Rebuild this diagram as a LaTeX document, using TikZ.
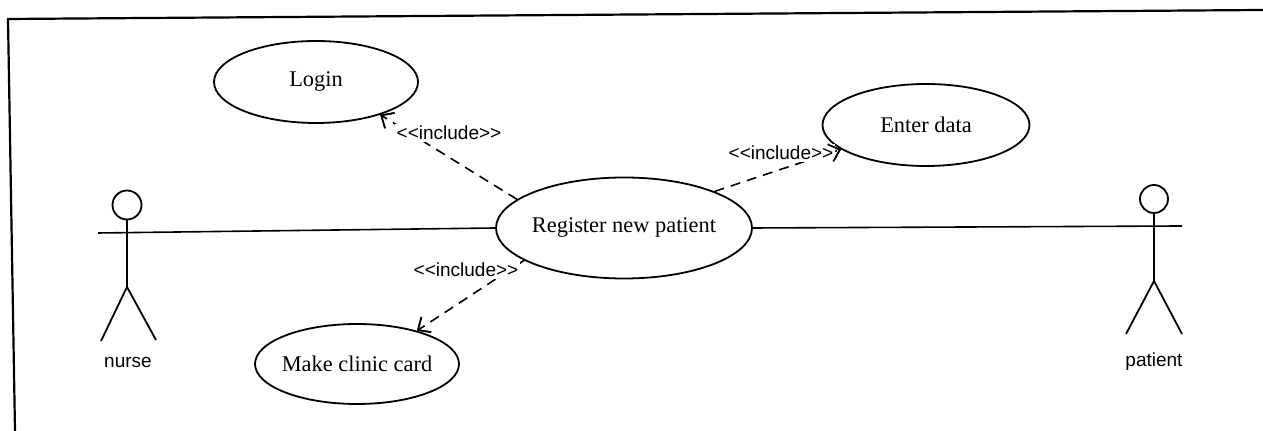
\documentclass[tikz,border=0pt]{standalone}
\usepackage{fontspec}
\setmainfont{Liberation Serif}
\setsansfont{Liberation Sans}
\usetikzlibrary{shapes.geometric,arrows.meta,calc}
% guillemets written as two separate angle brackets each
\newcommand{\stereotype}[1]{<\kern0pt<#1>\kern0pt>}
\begin{document}
\begin{tikzpicture}[x=0.5pt,y=-0.5pt,
  usecase/.style={draw, ellipse, line width=0.9pt, inner sep=0pt},
  casetext/.style={font=\fontsize{11.2}{13}\selectfont},
  actorline/.style={line width=0.9pt},
  assoc/.style={line width=0.8pt},
  opentip/.style={-{Straight Barb[length=5pt,width=9pt,line width=0.8pt]}},
  incl/.style={line width=0.8pt, dash pattern=on 5pt off 3.5pt, opentip},
  stereo/.style={font=\sffamily\fontsize{9.5}{11}\selectfont, inner sep=1pt, fill=white},
  actorname/.style={font=\sffamily\fontsize{9.5}{11}\selectfont, inner sep=1pt}]
\useasboundingbox (0,0) rectangle (1263,431);
% frame
\draw[line width=1.1pt] (15,431) -- (8,19) -- (1263,10);

% use cases
\node[usecase, minimum width=102pt, minimum height=41pt,
  label={[casetext]center:Login}] (login) at (316,82) {};
\node[usecase, minimum width=103.5pt, minimum height=41pt,
  label={[casetext]center:Enter data}] (enter) at (926,125) {};
\node[usecase, minimum width=128pt, minimum height=50.5pt,
  label={[casetext]center:Register new patient}] (reg) at (624,228) {};
\node[usecase, minimum width=102pt, minimum height=40pt,
  label={[casetext]center:Make clinic card}] (card) at (357,364) {};

% actor: nurse
\node[draw, circle, line width=0.9pt, minimum size=14.5pt, inner sep=0pt] (nhead) at (127,205) {};
\coordinate (nhip) at (127,287);
\coordinate (narm) at (98,233);
\draw[actorline] (nhead.south) -- (nhip);
\draw[actorline] (101,341) -- (nhip) -- (156,340);
\node[actorname] (nname) at (128,362) {nurse};

% actor: patient
\node[draw, circle, line width=0.9pt, minimum size=14pt, inner sep=0pt] (phead) at (1154,199) {};
\coordinate (phip) at (1154,281);
\coordinate (parm) at (1182,226);
\draw[actorline] (phead.south) -- (phip);
\draw[actorline] (1126,334) -- (phip) -- (1182,334);
\node[actorname] (pname) at (1154,362) {patient};

% associations
\draw[assoc] (narm) -- (reg.west);
\draw[assoc] (reg.east) -- (parm);

% include relations
\draw[incl] (reg.165) -- (login.333);
\draw[incl] (reg.22) -- (enter.196);
\draw[incl] (reg.198.6) -- (card.29);
\node[stereo] (s1) at (449,133) {\stereotype{include}};
\node[stereo] (s2) at (781,153) {\stereotype{include}};
\node[stereo] (s3) at (466,270) {\stereotype{include}};
% arrow heads drawn again on top of the label backgrounds
\draw[line width=0.8pt, opentip] ($(login.333)!0.5pt!(reg.165)$) -- (login.333);
\draw[line width=0.8pt, opentip] ($(enter.196)!0.5pt!(reg.22)$) -- (enter.196);
\draw[line width=0.8pt, opentip] ($(card.29)!0.5pt!(reg.198.6)$) -- (card.29);
\end{tikzpicture}
\end{document}
